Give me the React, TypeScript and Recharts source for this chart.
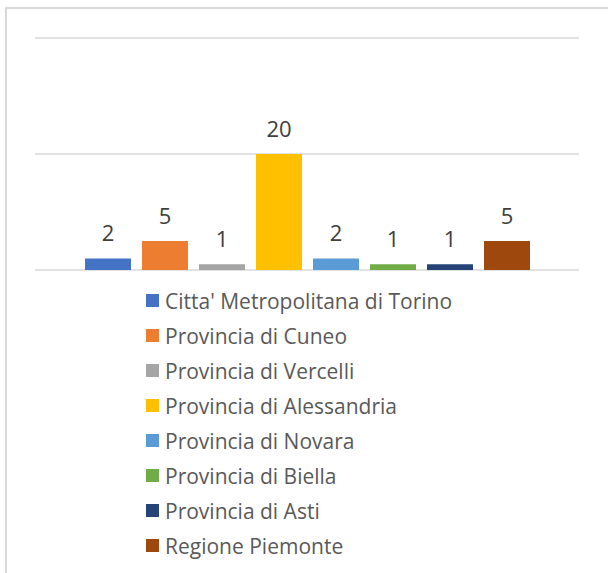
import React from "react";
import { BarChart, Bar, XAxis, YAxis, CartesianGrid, LabelList } from "recharts";

const SERIES_NAMES = [
  "Citta' Metropolitana di Torino",
  "Provincia di Cuneo",
  "Provincia di Vercelli",
  "Provincia di Alessandria",
  "Provincia di Novara",
  "Provincia di Biella",
  "Provincia di Asti",
  "Regione Piemonte",
];
const SERIES_VALUES = [2, 5, 1, 20, 2, 1, 1, 5];
const SERIES_COLORS = ["#4472C4", "#ED7D31", "#A5A5A5", "#FFC000", "#5B9BD5", "#70AD47", "#264478", "#9E480E"];
const Y_TICKS = [0, 20, 40];

const FONT = "'Open Sans', 'Noto Sans', sans-serif";

// one row, one column per series (like the Excel chart)
const chartData = [
  SERIES_NAMES.reduce((row: any, name, i) => {
    row["s" + i] = SERIES_VALUES[i];
    return row;
  }, { cat: "" }),
];

export default function App() {
  return (
    <div style={{ position: "fixed", left: 0, top: 0, width: 608, height: 573, background: "#fff", overflow: "hidden", fontFamily: FONT }}>
      {/* chart frame, only left and top edges are visible */}
      <div style={{ position: "absolute", left: 5, top: 7, width: 620, height: 600, borderLeft: "2px solid #d9d9d9", borderTop: "2px solid #d9d9d9" }} />

      <div style={{ position: "absolute", left: 0, top: 0 }}>
        <BarChart width={608} height={290} data={chartData} margin={{ top: 38, right: 29, left: 35, bottom: 20 }} barGap={11}>
          <CartesianGrid vertical={false} stroke="#d9d9d9" strokeWidth={1.5} />
          <XAxis dataKey="cat" hide />
          <YAxis hide domain={[0, 40]} ticks={Y_TICKS} />
          {SERIES_NAMES.map((name, i) => (
            <Bar key={name} dataKey={"s" + i} name={name} fill={SERIES_COLORS[i]} barSize={46} isAnimationActive={false}>
              <LabelList dataKey={"s" + i} position="top" offset={17} fill="#404040" fontSize={22} fontFamily={FONT} />
            </Bar>
          ))}
        </BarChart>
      </div>

      {/* legend */}
      <div style={{ position: "absolute", left: 146, top: 289 }}>
        {SERIES_NAMES.map((name, i) => (
          <div key={name} style={{ display: "flex", alignItems: "center", height: 35, marginTop: i === 0 ? -6 : 0 }}>
            <span style={{ width: 13, height: 13, background: SERIES_COLORS[i], display: "inline-block", marginRight: 6 }} />
            <span style={{ fontSize: 21, color: "#595959", lineHeight: "26px" }}>{name}</span>
          </div>
        ))}
      </div>
    </div>
  );
}
